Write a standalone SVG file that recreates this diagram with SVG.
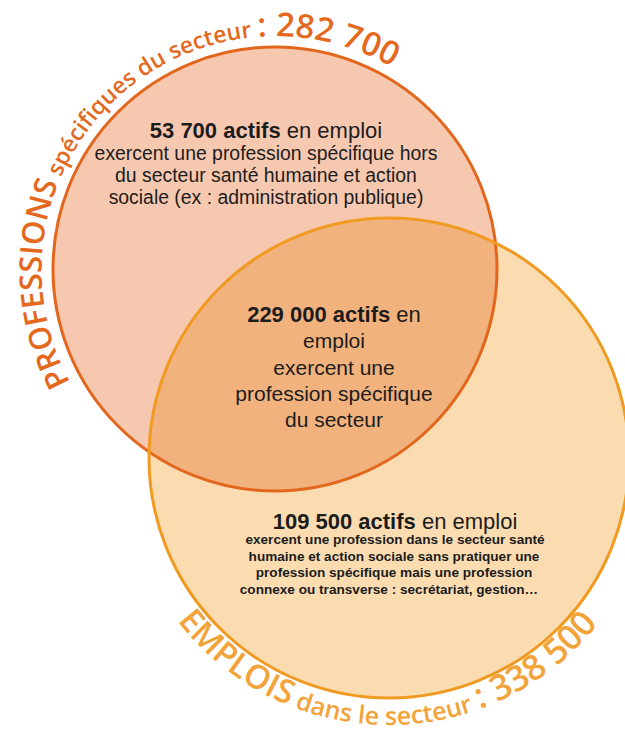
<svg xmlns="http://www.w3.org/2000/svg" xmlns:xlink="http://www.w3.org/1999/xlink" width="625" height="729" viewBox="0 0 625 729">
  <defs>
    <style>
      .body { font-family: "Liberation Sans", Arial, sans-serif; fill: #1c1c1c; text-anchor: middle; }
      .b { font-weight: bold; }
      .arc { font-family: "Open Sans", "Liberation Sans", sans-serif; font-weight: 600; }
      .topArc { fill: #e4691e; }
      .botArc { fill: #f2a43a; }
    </style>
    <clipPath id="clipTop">
      <circle cx="275" cy="269" r="222"/>
    </clipPath>
    <path id="pathTop" d="M 70.3 382.4 A 234 234 0 0 1 477.6 152"/>
    <path id="pathBot" d="M 170.3 611.1 A 267 267 0 0 0 639.9 549.3"/>
  </defs>

  <rect width="625" height="729" fill="#ffffff"/>

  <g id="circle-emplois">
    <circle cx="389" cy="458" r="240" fill="#fbdcb1"/>
  </g>
  <g id="circle-professions">
    <circle cx="275" cy="269" r="222" fill="#f7c8b0"/>
  </g>
  <g id="overlap">
    <circle cx="389" cy="458" r="240" fill="#f2b27e" clip-path="url(#clipTop)"/>
  </g>
  <g id="outlines" fill="none" stroke-width="3">
    <circle cx="275" cy="269" r="222" stroke="#e2661c"/>
    <circle cx="389" cy="458" r="240" stroke="#f09a22"/>
  </g>

  <g id="label-professions">
    <text class="arc topArc"><textPath href="#pathTop" xlink:href="#pathTop"><tspan font-size="31">PROFESSIONS</tspan><tspan font-size="23"> spécifiques du secteur </tspan><tspan font-size="33">: 282 700</tspan></textPath></text>
  </g>
  <g id="label-emplois">
    <text class="arc botArc"><textPath href="#pathBot" xlink:href="#pathBot" startOffset="12"><tspan font-size="33">EMPLOIS</tspan><tspan font-size="25"> dans le secteur </tspan><tspan font-size="35">: 338 500</tspan></textPath></text>
  </g>

  <g id="node-hors-secteur">
    <text class="body" x="266" y="138" font-size="22"><tspan class="b">53 700 actifs</tspan> en emploi</text>
    <text class="body" x="266" y="160" font-size="19.4">exercent une profession spécifique hors</text>
    <text class="body" x="266" y="182" font-size="19.4">du secteur santé humaine et action</text>
    <text class="body" x="266" y="204" font-size="19.4">sociale (ex : administration publique)</text>
  </g>

  <g id="node-intersection">
    <text class="body" x="334" y="322" font-size="22"><tspan class="b">229 000 actifs</tspan> en</text>
    <text class="body" x="334" y="348" font-size="21">emploi</text>
    <text class="body" x="334" y="375" font-size="21">exercent une</text>
    <text class="body" x="334" y="401" font-size="21">profession spécifique</text>
    <text class="body" x="334" y="427" font-size="21">du secteur</text>
  </g>

  <g id="node-secteur">
    <text class="body" x="395" y="529" font-size="22"><tspan class="b">109 500 actifs</tspan> en emploi</text>
    <text class="body b" x="395" y="544" font-size="13.6">exercent une profession dans le secteur santé</text>
    <text class="body b" x="394" y="561" font-size="13.6">humaine et action sociale sans pratiquer une</text>
    <text class="body b" x="394" y="577" font-size="13.6">profession spécifique mais une profession</text>
    <text class="body b" x="389" y="594" font-size="13.6">connexe ou transverse : secrétariat, gestion…</text>
  </g>
</svg>
